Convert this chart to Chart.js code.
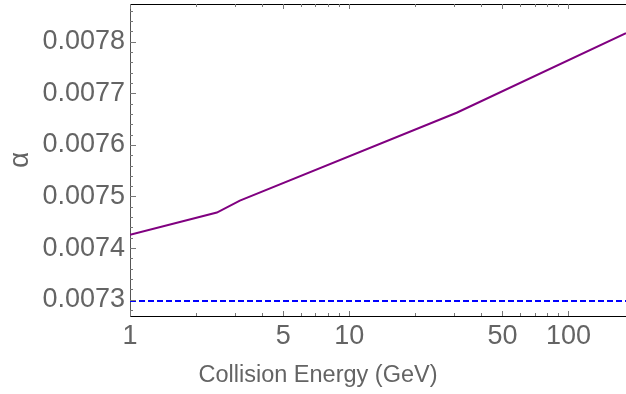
<!DOCTYPE html>
<html>
<head>
<meta charset="utf-8">
<script src="https://cdn.jsdelivr.net/npm/chart.js@4"></script>
<style>
  html, body { margin: 0; padding: 0; background: #fff; }
  #wrap { width: 626px; height: 394px; }
</style>
</head>
<body>
<div id="wrap"><canvas id="chart"></canvas></div>
<script>
// running coupling
const energy = [1, 2.49, 3.17, 30.9, 183];
const alpha = [0.0074257, 0.0074689, 0.0074921, 0.0076623, 0.0078164];

// low energy limit 1/137
const refEnergy = [1, 183];
const refAlpha = [0.0072974, 0.0072974];

const xMajor = [1, 5, 10, 50, 100];
const xTicks = [1, 2, 3, 4, 5, 6, 7, 8, 9, 10, 20, 30, 40, 50, 60, 70, 80, 90, 100];
const yLabels = ['0.0073', '0.0074', '0.0075', '0.0076', '0.0077', '0.0078'];
const yMinorStep = 0.00002;

const xMin = 1, xMax = 183;
const yMin = 0.0072685, yMax = 0.0078729;

const textColor = '#646464';
const fontFam = '"Liberation Sans", Arial, sans-serif';

function isMajorY(v) {
    return yLabels.some(l => Math.abs(parseFloat(l) - v) < 1e-9);
}

// inward tick marks + top frame line + x axis title
const frameTicks = {
    id: 'frameTicks',
    afterDraw(chart) {
        const ctx = chart.ctx;
        const a = chart.chartArea;
        const xs = chart.scales.x, ys = chart.scales.y;
        ctx.save();
        ctx.strokeStyle = '#000';
        ctx.lineWidth = 1;
        ctx.beginPath();
        ctx.moveTo(a.left, a.top + 0.5);
        ctx.lineTo(a.right, a.top + 0.5);
        ctx.stroke();

        ctx.strokeStyle = '#777';
        xTicks.forEach(v => {
            const px = Math.round(xs.getPixelForValue(v)) + 0.5;
            const len = xMajor.includes(v) ? 5 : 3;
            ctx.beginPath();
            ctx.moveTo(px, a.bottom);
            ctx.lineTo(px, a.bottom - len);
            ctx.moveTo(px, a.top);
            ctx.lineTo(px, a.top + len);
            ctx.stroke();
        });
        ys.ticks.forEach(t => {
            const py = Math.round(ys.getPixelForValue(t.value)) + 0.5;
            const len = isMajorY(t.value) ? 6 : 3;
            ctx.beginPath();
            ctx.moveTo(a.left, py);
            ctx.lineTo(a.left + len, py);
            ctx.stroke();
        });

        ctx.fillStyle = textColor;
        ctx.font = '23.5px ' + fontFam;
        ctx.textAlign = 'center';
        ctx.textBaseline = 'middle';
        ctx.fillText('Collision Energy (GeV)', 318, 376);
        ctx.restore();
    }
};

const ctx = document.getElementById('chart').getContext('2d');
new Chart(ctx, {
    type: 'line',
    data: {
        datasets: [{
            label: 'alpha',
            data: energy.map((e, i) => ({x: e, y: alpha[i]})),
            borderColor: '#800080',
            borderWidth: 2,
            pointRadius: 0,
            tension: 0
        }, {
            label: '1/137',
            data: refEnergy.map((e, i) => ({x: e, y: refAlpha[i]})),
            borderColor: '#0000ff',
            borderWidth: 2,
            borderDash: [6, 3],
            pointRadius: 0
        }]
    },
    options: {
        responsive: true,
        maintainAspectRatio: false,
        animation: false,
        layout: { padding: { top: 4, right: 0, left: 0, bottom: 0 } },
        plugins: { legend: { display: false }, tooltip: { enabled: false } },
        scales: {
            x: {
                type: 'logarithmic',
                min: xMin,
                max: xMax,
                afterBuildTicks: s => { s.ticks = xTicks.map(v => ({value: v})); },
                afterFit: s => { s.height = 78; s.paddingLeft = 0; s.paddingRight = 0; },
                grid: { display: false, drawTicks: false, tickLength: 0 },
                border: { display: true, color: '#000', width: 1 },
                ticks: {
                    autoSkip: false,
                    maxRotation: 0,
                    padding: 4,
                    color: textColor,
                    font: { family: fontFam, size: 27 },
                    callback: v => xMajor.includes(v) ? String(v) : ''
                }
            },
            y: {
                type: 'linear',
                min: yMin,
                max: yMax,
                afterBuildTicks: s => {
                    const t = [];
                    for (let v = 0.00728; v <= yMax; v += yMinorStep) t.push({value: +v.toFixed(5)});
                    s.ticks = t;
                },
                afterFit: s => { s.width = 130; s.paddingTop = 0; s.paddingBottom = 0; },
                grid: { display: false, drawTicks: false, tickLength: 0 },
                border: { display: true, color: '#555', width: 1 },
                title: {
                    display: true,
                    text: 'α',
                    color: textColor,
                    font: { family: fontFam, size: 28 },
                    padding: { top: 3, bottom: 0 }
                },
                ticks: {
                    autoSkip: false,
                    padding: 5,
                    color: textColor,
                    font: { family: fontFam, size: 27 },
                    callback: v => {
                        const l = yLabels.find(s => Math.abs(parseFloat(s) - v) < 1e-9);
                        return l || '';
                    }
                }
            }
        }
    },
    plugins: [frameTicks]
});
</script>
</body>
</html>
